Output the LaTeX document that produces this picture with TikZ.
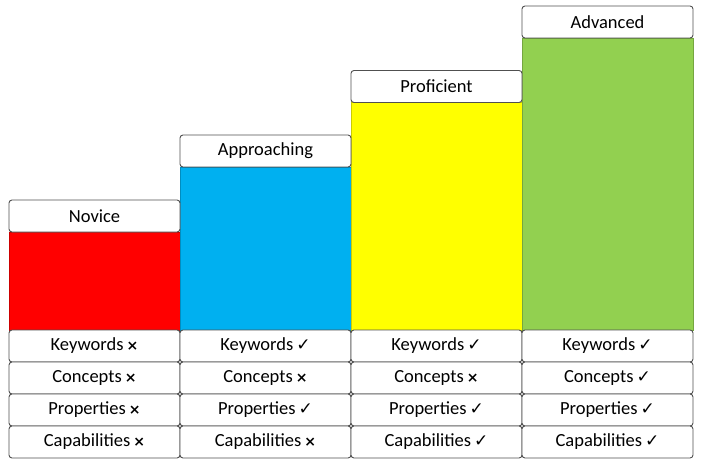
\documentclass[tikz,border=0pt]{standalone}
\usepackage{fontspec}
\setmainfont{Carlito}
\newfontfamily\symfont{DejaVu Sans}
\definecolor{cred}{HTML}{FF0000}
\definecolor{cblue}{HTML}{00B0F0}
\definecolor{cyellow}{HTML}{FFFF00}
\definecolor{cgreen}{HTML}{92D050}
\definecolor{edge}{HTML}{505050}
\newcommand{\yes}{\,{\symfont\fontsize{17}{17}\selectfont ✓}}
\newcommand{\no}{\,{\symfont\bfseries\fontsize{14}{14}\selectfont ×}}
\tikzset{
  box/.style={draw=edge, line width=0.9pt, fill=white, rounded corners=3pt,
    minimum width=171pt, minimum height=32pt, inner sep=0pt, outer sep=0pt,
    font=\fontsize{18.5}{18.5}\selectfont},
  bar/.style={line width=0.6pt, inner sep=0pt, outer sep=0pt, minimum width=171pt}
}
\begin{document}
\begin{tikzpicture}[x=1pt,y=-1pt]
\useasboundingbox (0,0) rectangle (709,465);
% bars
\fill[cred, draw=cred!80!black, line width=0.5pt] (9,232) rectangle (180,330);
\fill[cblue, draw=cblue!80!black, line width=0.5pt] (180,167) rectangle (351,330);
\fill[cyellow, draw=cyellow!80!black, line width=0.5pt] (351,102) rectangle (522,330);
\fill[cgreen, draw=cgreen!80!black, line width=0.5pt] (522,38) rectangle (693,330);
% headers
\node[box] (h1) at (94.5,216) {Novice};
\node[box] (h2) at (265.5,151) {Approaching};
\node[box] (h3) at (436.5,86.5) {Proficient};
\node[box] (h4) at (607.5,22) {Advanced};
% rows
\node[box] (k1) at (94.5,346) {Keywords\no};
\node[box] (c1) at (94.5,378) {Concepts\no};
\node[box] (p1) at (94.5,410) {Properties\no};
\node[box] (a1) at (94.5,442) {Capabilities\no};
\node[box] (k2) at (265.5,346) {Keywords\yes};
\node[box] (c2) at (265.5,378) {Concepts\no};
\node[box] (p2) at (265.5,410) {Properties\yes};
\node[box] (a2) at (265.5,442) {Capabilities\no};
\node[box] (k3) at (436.5,346) {Keywords\yes};
\node[box] (c3) at (436.5,378) {Concepts\no};
\node[box] (p3) at (436.5,410) {Properties\yes};
\node[box] (a3) at (436.5,442) {Capabilities\yes};
\node[box] (k4) at (607.5,346) {Keywords\yes};
\node[box] (c4) at (607.5,378) {Concepts\yes};
\node[box] (p4) at (607.5,410) {Properties\yes};
\node[box] (a4) at (607.5,442) {Capabilities\yes};
\end{tikzpicture}
\end{document}
